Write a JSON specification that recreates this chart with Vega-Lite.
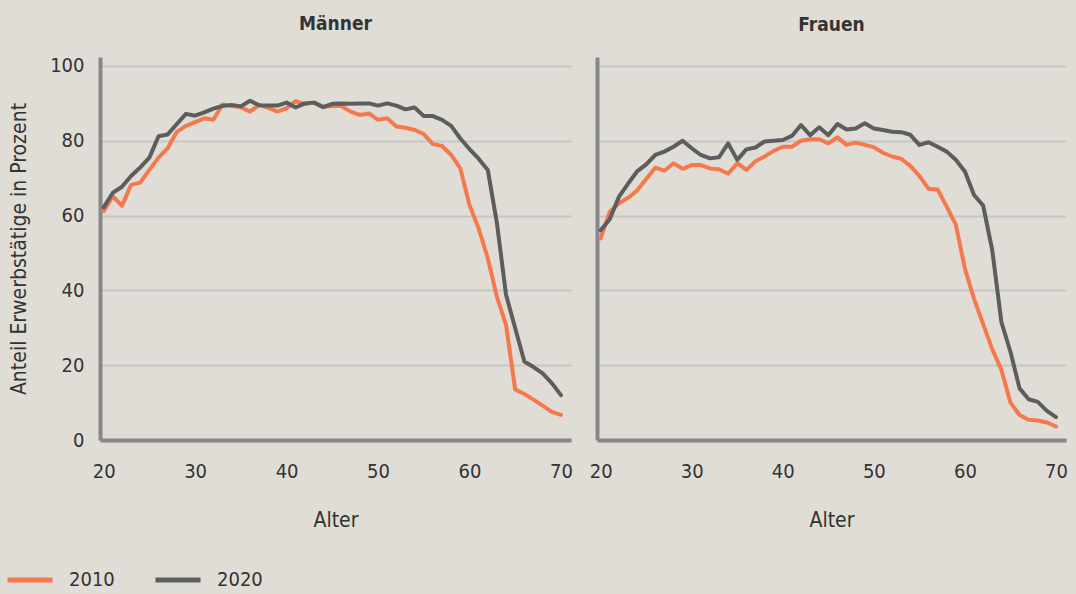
{
  "$schema": "https://vega.github.io/schema/vega-lite/v6.json",
  "background": "#e0ddd7",
  "padding": {"left": 5, "top": 14, "right": 8, "bottom": 5},
  "config": {
    "font": "DejaVu Sans Condensed, Liberation Sans Narrow, Roboto, sans-serif",
    "view": {"stroke": null},
    "axis": {"labelFont": "DejaVu Sans Condensed, Liberation Sans Narrow, Roboto, sans-serif", "titleFont": "DejaVu Sans Condensed, Liberation Sans Narrow, Roboto, sans-serif", "labelColor": "#333333", "titleColor": "#333333", "labelFontSize": 20, "titleFontSize": 21, "titleFontWeight": "normal"},
    "title": {"font": "DejaVu Sans Condensed, Liberation Sans Narrow, Roboto, sans-serif", "fontSize": 19, "fontWeight": "bold", "color": "#333333"},
    "legend": {"labelFont": "DejaVu Sans Condensed, Liberation Sans Narrow, Roboto, sans-serif", "labelFontSize": 20, "labelColor": "#333333"}
  },
  "datasets": {
    "d": [
      {"g": "Männer", "year": "2010", "age": 20, "v": 61.2}, {"g": "Männer", "year": "2010", "age": 21, "v": 65.2}, {"g": "Männer", "year": "2010", "age": 22, "v": 62.6}, {"g": "Männer", "year": "2010", "age": 23, "v": 68.2}, {"g": "Männer", "year": "2010", "age": 24, "v": 68.8}, {"g": "Männer", "year": "2010", "age": 25, "v": 72.2}, {"g": "Männer", "year": "2010", "age": 26, "v": 75.5}, {"g": "Männer", "year": "2010", "age": 27, "v": 78.0}, {"g": "Männer", "year": "2010", "age": 28, "v": 82.4}, {"g": "Männer", "year": "2010", "age": 29, "v": 84.0}, {"g": "Männer", "year": "2010", "age": 30, "v": 85.0}, {"g": "Männer", "year": "2010", "age": 31, "v": 86.0}, {"g": "Männer", "year": "2010", "age": 32, "v": 85.6}, {"g": "Männer", "year": "2010", "age": 33, "v": 89.7}, {"g": "Männer", "year": "2010", "age": 34, "v": 89.3}, {"g": "Männer", "year": "2010", "age": 35, "v": 89.0}, {"g": "Männer", "year": "2010", "age": 36, "v": 87.8}, {"g": "Männer", "year": "2010", "age": 37, "v": 89.6}, {"g": "Männer", "year": "2010", "age": 38, "v": 88.8}, {"g": "Männer", "year": "2010", "age": 39, "v": 87.8}, {"g": "Männer", "year": "2010", "age": 40, "v": 88.7}, {"g": "Männer", "year": "2010", "age": 41, "v": 90.6}, {"g": "Männer", "year": "2010", "age": 42, "v": 89.8}, {"g": "Männer", "year": "2010", "age": 43, "v": 90.2}, {"g": "Männer", "year": "2010", "age": 44, "v": 89.1}, {"g": "Männer", "year": "2010", "age": 45, "v": 89.3}, {"g": "Männer", "year": "2010", "age": 46, "v": 89.3}, {"g": "Männer", "year": "2010", "age": 47, "v": 87.8}, {"g": "Männer", "year": "2010", "age": 48, "v": 86.9}, {"g": "Männer", "year": "2010", "age": 49, "v": 87.3}, {"g": "Männer", "year": "2010", "age": 50, "v": 85.6}, {"g": "Männer", "year": "2010", "age": 51, "v": 86.0}, {"g": "Männer", "year": "2010", "age": 52, "v": 83.8}, {"g": "Männer", "year": "2010", "age": 53, "v": 83.5}, {"g": "Männer", "year": "2010", "age": 54, "v": 82.9}, {"g": "Männer", "year": "2010", "age": 55, "v": 81.8}, {"g": "Männer", "year": "2010", "age": 56, "v": 79.1}, {"g": "Männer", "year": "2010", "age": 57, "v": 78.6}, {"g": "Männer", "year": "2010", "age": 58, "v": 76.2}, {"g": "Männer", "year": "2010", "age": 59, "v": 72.6}, {"g": "Männer", "year": "2010", "age": 60, "v": 62.8}, {"g": "Männer", "year": "2010", "age": 61, "v": 56.6}, {"g": "Männer", "year": "2010", "age": 62, "v": 48.6}, {"g": "Männer", "year": "2010", "age": 63, "v": 38.3}, {"g": "Männer", "year": "2010", "age": 64, "v": 30.7}, {"g": "Männer", "year": "2010", "age": 65, "v": 13.5}, {"g": "Männer", "year": "2010", "age": 66, "v": 12.3}, {"g": "Männer", "year": "2010", "age": 67, "v": 10.8}, {"g": "Männer", "year": "2010", "age": 68, "v": 9.2}, {"g": "Männer", "year": "2010", "age": 69, "v": 7.5}, {"g": "Männer", "year": "2010", "age": 70, "v": 6.7},
      {"g": "Männer", "year": "2020", "age": 20, "v": 62.2}, {"g": "Männer", "year": "2020", "age": 21, "v": 66.1}, {"g": "Männer", "year": "2020", "age": 22, "v": 67.7}, {"g": "Männer", "year": "2020", "age": 23, "v": 70.6}, {"g": "Männer", "year": "2020", "age": 24, "v": 72.9}, {"g": "Männer", "year": "2020", "age": 25, "v": 75.5}, {"g": "Männer", "year": "2020", "age": 26, "v": 81.2}, {"g": "Männer", "year": "2020", "age": 27, "v": 81.7}, {"g": "Männer", "year": "2020", "age": 28, "v": 84.5}, {"g": "Männer", "year": "2020", "age": 29, "v": 87.2}, {"g": "Männer", "year": "2020", "age": 30, "v": 86.7}, {"g": "Männer", "year": "2020", "age": 31, "v": 87.6}, {"g": "Männer", "year": "2020", "age": 32, "v": 88.6}, {"g": "Männer", "year": "2020", "age": 33, "v": 89.3}, {"g": "Männer", "year": "2020", "age": 34, "v": 89.6}, {"g": "Männer", "year": "2020", "age": 35, "v": 89.2}, {"g": "Männer", "year": "2020", "age": 36, "v": 90.7}, {"g": "Männer", "year": "2020", "age": 37, "v": 89.5}, {"g": "Männer", "year": "2020", "age": 38, "v": 89.4}, {"g": "Männer", "year": "2020", "age": 39, "v": 89.4}, {"g": "Männer", "year": "2020", "age": 40, "v": 90.2}, {"g": "Männer", "year": "2020", "age": 41, "v": 88.9}, {"g": "Männer", "year": "2020", "age": 42, "v": 90.0}, {"g": "Männer", "year": "2020", "age": 43, "v": 90.2}, {"g": "Männer", "year": "2020", "age": 44, "v": 89.0}, {"g": "Männer", "year": "2020", "age": 45, "v": 89.9}, {"g": "Männer", "year": "2020", "age": 46, "v": 90.0}, {"g": "Männer", "year": "2020", "age": 47, "v": 89.9}, {"g": "Männer", "year": "2020", "age": 48, "v": 90.0}, {"g": "Männer", "year": "2020", "age": 49, "v": 90.0}, {"g": "Männer", "year": "2020", "age": 50, "v": 89.4}, {"g": "Männer", "year": "2020", "age": 51, "v": 90.0}, {"g": "Männer", "year": "2020", "age": 52, "v": 89.4}, {"g": "Männer", "year": "2020", "age": 53, "v": 88.4}, {"g": "Männer", "year": "2020", "age": 54, "v": 88.9}, {"g": "Männer", "year": "2020", "age": 55, "v": 86.6}, {"g": "Männer", "year": "2020", "age": 56, "v": 86.6}, {"g": "Männer", "year": "2020", "age": 57, "v": 85.6}, {"g": "Männer", "year": "2020", "age": 58, "v": 84.0}, {"g": "Männer", "year": "2020", "age": 59, "v": 80.6}, {"g": "Männer", "year": "2020", "age": 60, "v": 77.8}, {"g": "Männer", "year": "2020", "age": 61, "v": 75.2}, {"g": "Männer", "year": "2020", "age": 62, "v": 72.2}, {"g": "Männer", "year": "2020", "age": 63, "v": 58.0}, {"g": "Männer", "year": "2020", "age": 64, "v": 38.8}, {"g": "Männer", "year": "2020", "age": 65, "v": 29.9}, {"g": "Männer", "year": "2020", "age": 66, "v": 21.0}, {"g": "Männer", "year": "2020", "age": 67, "v": 19.5}, {"g": "Männer", "year": "2020", "age": 68, "v": 17.8}, {"g": "Männer", "year": "2020", "age": 69, "v": 15.2}, {"g": "Männer", "year": "2020", "age": 70, "v": 12.0},
      {"g": "Frauen", "year": "2010", "age": 20, "v": 53.9}, {"g": "Frauen", "year": "2010", "age": 21, "v": 61.0}, {"g": "Frauen", "year": "2010", "age": 22, "v": 63.3}, {"g": "Frauen", "year": "2010", "age": 23, "v": 64.7}, {"g": "Frauen", "year": "2010", "age": 24, "v": 66.7}, {"g": "Frauen", "year": "2010", "age": 25, "v": 69.8}, {"g": "Frauen", "year": "2010", "age": 26, "v": 72.8}, {"g": "Frauen", "year": "2010", "age": 27, "v": 72.0}, {"g": "Frauen", "year": "2010", "age": 28, "v": 74.0}, {"g": "Frauen", "year": "2010", "age": 29, "v": 72.5}, {"g": "Frauen", "year": "2010", "age": 30, "v": 73.5}, {"g": "Frauen", "year": "2010", "age": 31, "v": 73.5}, {"g": "Frauen", "year": "2010", "age": 32, "v": 72.6}, {"g": "Frauen", "year": "2010", "age": 33, "v": 72.4}, {"g": "Frauen", "year": "2010", "age": 34, "v": 71.2}, {"g": "Frauen", "year": "2010", "age": 35, "v": 74.0}, {"g": "Frauen", "year": "2010", "age": 36, "v": 72.2}, {"g": "Frauen", "year": "2010", "age": 37, "v": 74.5}, {"g": "Frauen", "year": "2010", "age": 38, "v": 75.8}, {"g": "Frauen", "year": "2010", "age": 39, "v": 77.3}, {"g": "Frauen", "year": "2010", "age": 40, "v": 78.4}, {"g": "Frauen", "year": "2010", "age": 41, "v": 78.4}, {"g": "Frauen", "year": "2010", "age": 42, "v": 80.0}, {"g": "Frauen", "year": "2010", "age": 43, "v": 80.4}, {"g": "Frauen", "year": "2010", "age": 44, "v": 80.4}, {"g": "Frauen", "year": "2010", "age": 45, "v": 79.3}, {"g": "Frauen", "year": "2010", "age": 46, "v": 80.9}, {"g": "Frauen", "year": "2010", "age": 47, "v": 78.9}, {"g": "Frauen", "year": "2010", "age": 48, "v": 79.5}, {"g": "Frauen", "year": "2010", "age": 49, "v": 78.9}, {"g": "Frauen", "year": "2010", "age": 50, "v": 78.3}, {"g": "Frauen", "year": "2010", "age": 51, "v": 76.8}, {"g": "Frauen", "year": "2010", "age": 52, "v": 75.8}, {"g": "Frauen", "year": "2010", "age": 53, "v": 75.2}, {"g": "Frauen", "year": "2010", "age": 54, "v": 73.3}, {"g": "Frauen", "year": "2010", "age": 55, "v": 70.6}, {"g": "Frauen", "year": "2010", "age": 56, "v": 67.2}, {"g": "Frauen", "year": "2010", "age": 57, "v": 67.0}, {"g": "Frauen", "year": "2010", "age": 58, "v": 62.4}, {"g": "Frauen", "year": "2010", "age": 59, "v": 57.6}, {"g": "Frauen", "year": "2010", "age": 60, "v": 45.8}, {"g": "Frauen", "year": "2010", "age": 61, "v": 37.8}, {"g": "Frauen", "year": "2010", "age": 62, "v": 31.0}, {"g": "Frauen", "year": "2010", "age": 63, "v": 24.3}, {"g": "Frauen", "year": "2010", "age": 64, "v": 18.8}, {"g": "Frauen", "year": "2010", "age": 65, "v": 10.0}, {"g": "Frauen", "year": "2010", "age": 66, "v": 6.7}, {"g": "Frauen", "year": "2010", "age": 67, "v": 5.4}, {"g": "Frauen", "year": "2010", "age": 68, "v": 5.2}, {"g": "Frauen", "year": "2010", "age": 69, "v": 4.7}, {"g": "Frauen", "year": "2010", "age": 70, "v": 3.6},
      {"g": "Frauen", "year": "2020", "age": 20, "v": 56.1}, {"g": "Frauen", "year": "2020", "age": 21, "v": 59.0}, {"g": "Frauen", "year": "2020", "age": 22, "v": 65.0}, {"g": "Frauen", "year": "2020", "age": 23, "v": 68.5}, {"g": "Frauen", "year": "2020", "age": 24, "v": 71.8}, {"g": "Frauen", "year": "2020", "age": 25, "v": 73.7}, {"g": "Frauen", "year": "2020", "age": 26, "v": 76.2}, {"g": "Frauen", "year": "2020", "age": 27, "v": 77.1}, {"g": "Frauen", "year": "2020", "age": 28, "v": 78.4}, {"g": "Frauen", "year": "2020", "age": 29, "v": 80.0}, {"g": "Frauen", "year": "2020", "age": 30, "v": 78.0}, {"g": "Frauen", "year": "2020", "age": 31, "v": 76.2}, {"g": "Frauen", "year": "2020", "age": 32, "v": 75.3}, {"g": "Frauen", "year": "2020", "age": 33, "v": 75.6}, {"g": "Frauen", "year": "2020", "age": 34, "v": 79.3}, {"g": "Frauen", "year": "2020", "age": 35, "v": 74.9}, {"g": "Frauen", "year": "2020", "age": 36, "v": 77.7}, {"g": "Frauen", "year": "2020", "age": 37, "v": 78.2}, {"g": "Frauen", "year": "2020", "age": 38, "v": 79.8}, {"g": "Frauen", "year": "2020", "age": 39, "v": 80.0}, {"g": "Frauen", "year": "2020", "age": 40, "v": 80.2}, {"g": "Frauen", "year": "2020", "age": 41, "v": 81.3}, {"g": "Frauen", "year": "2020", "age": 42, "v": 84.2}, {"g": "Frauen", "year": "2020", "age": 43, "v": 81.5}, {"g": "Frauen", "year": "2020", "age": 44, "v": 83.6}, {"g": "Frauen", "year": "2020", "age": 45, "v": 81.5}, {"g": "Frauen", "year": "2020", "age": 46, "v": 84.5}, {"g": "Frauen", "year": "2020", "age": 47, "v": 83.0}, {"g": "Frauen", "year": "2020", "age": 48, "v": 83.3}, {"g": "Frauen", "year": "2020", "age": 49, "v": 84.7}, {"g": "Frauen", "year": "2020", "age": 50, "v": 83.3}, {"g": "Frauen", "year": "2020", "age": 51, "v": 82.9}, {"g": "Frauen", "year": "2020", "age": 52, "v": 82.4}, {"g": "Frauen", "year": "2020", "age": 53, "v": 82.3}, {"g": "Frauen", "year": "2020", "age": 54, "v": 81.6}, {"g": "Frauen", "year": "2020", "age": 55, "v": 78.9}, {"g": "Frauen", "year": "2020", "age": 56, "v": 79.6}, {"g": "Frauen", "year": "2020", "age": 57, "v": 78.4}, {"g": "Frauen", "year": "2020", "age": 58, "v": 77.1}, {"g": "Frauen", "year": "2020", "age": 59, "v": 74.9}, {"g": "Frauen", "year": "2020", "age": 60, "v": 71.8}, {"g": "Frauen", "year": "2020", "age": 61, "v": 65.5}, {"g": "Frauen", "year": "2020", "age": 62, "v": 62.7}, {"g": "Frauen", "year": "2020", "age": 63, "v": 50.8}, {"g": "Frauen", "year": "2020", "age": 64, "v": 31.6}, {"g": "Frauen", "year": "2020", "age": 65, "v": 23.6}, {"g": "Frauen", "year": "2020", "age": 66, "v": 13.8}, {"g": "Frauen", "year": "2020", "age": 67, "v": 10.9}, {"g": "Frauen", "year": "2020", "age": 68, "v": 10.2}, {"g": "Frauen", "year": "2020", "age": 69, "v": 7.8}, {"g": "Frauen", "year": "2020", "age": 70, "v": 6.1}
    ]
  },
  "data": {"name": "d"},
  "spacing": 16,
  "hconcat": [
    {
      "width": 471, "height": 383,
      "title": {"text": "Männer", "offset": 22},
      "transform": [{"filter": "datum.g === 'Männer'"}],
      "mark": {"type": "line", "strokeWidth": 4, "strokeJoin": "round", "strokeCap": "round"},
      "encoding": {
        "x": {"field": "age", "type": "quantitative", "scale": {"domain": [19.6, 71.1], "nice": false, "zero": false},
              "axis": {"values": [20, 30, 40, 50, 60, 70], "title": "Alter", "grid": false, "ticks": false, "domainColor": "#85878a", "domainWidth": 4, "labelPadding": 21, "titlePadding": 28, "labelFlush": false}},
        "y": {"field": "v", "type": "quantitative", "scale": {"domain": [0, 102.4], "nice": false},
              "axis": {"values": [0, 20, 40, 60, 80, 100], "title": "Anteil Erwerbstätige in Prozent", "grid": true, "gridColor": "#c6c6c6", "gridWidth": 2, "ticks": false, "domainColor": "#85878a", "domainWidth": 4, "labelPadding": 16, "titlePadding": 20}},
        "color": {"field": "year", "type": "nominal", "scale": {"domain": ["2010", "2020"], "range": ["#f5794d", "#5c5e5d"]},
                  "legend": {"title": null, "orient": "none", "legendX": -95, "legendY": 498, "direction": "horizontal", "symbolType": "stroke", "symbolStrokeWidth": 5, "symbolSize": 2025, "labelOffset": 14, "columnPadding": 30}}
      }
    },
    {
      "width": 469, "height": 383,
      "title": {"text": "Frauen", "offset": 22},
      "transform": [{"filter": "datum.g === 'Frauen'"}],
      "mark": {"type": "line", "strokeWidth": 4, "strokeJoin": "round", "strokeCap": "round"},
      "encoding": {
        "x": {"field": "age", "type": "quantitative", "scale": {"domain": [19.6, 71.1], "nice": false, "zero": false},
              "axis": {"values": [20, 30, 40, 50, 60, 70], "title": "Alter", "grid": false, "ticks": false, "domainColor": "#85878a", "domainWidth": 4, "labelPadding": 21, "titlePadding": 28, "labelFlush": false}},
        "y": {"field": "v", "type": "quantitative", "scale": {"domain": [0, 102.4], "nice": false},
              "axis": {"values": [0, 20, 40, 60, 80, 100], "title": null, "labels": false, "grid": true, "gridColor": "#c6c6c6", "gridWidth": 2, "ticks": false, "domainColor": "#85878a", "domainWidth": 4}},
        "color": {"field": "year", "type": "nominal", "scale": {"domain": ["2010", "2020"], "range": ["#f5794d", "#5c5e5d"]}}
      }
    }
  ]
}
